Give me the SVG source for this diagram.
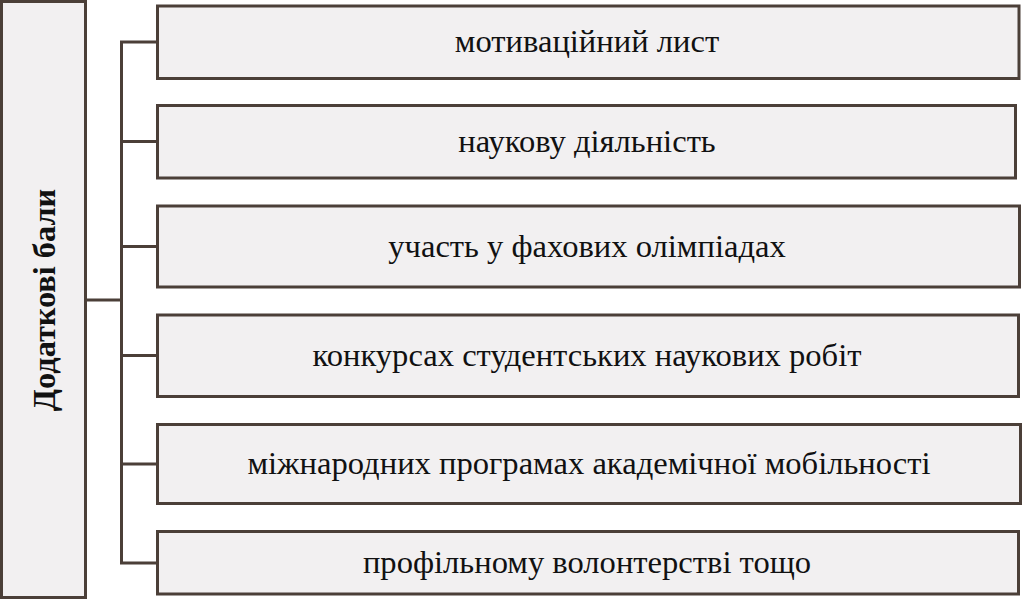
<svg xmlns="http://www.w3.org/2000/svg" width="1024" height="600" viewBox="0 0 1024 600">
<style>
.box{fill:#f2f0f1;stroke:#4b3f38;stroke-width:3}
.ln{fill:none;stroke:#4b3f38;stroke-width:3}
.t{font-family:"Liberation Serif","Times New Roman",serif;font-size:32.6px;fill:#111;text-anchor:middle}
.h{font-family:"Liberation Serif","Times New Roman",serif;font-size:32.3px;font-weight:bold;fill:#111;text-anchor:middle}
</style>
<rect width="1024" height="600" fill="#ffffff"/>
<g id="connectors">
<path class="ln" d="M85.5 300H121.5"/>
<path class="ln" d="M157.5 42H121.5V563H157.5"/>
<path class="ln" d="M121.5 141.5H157.5"/>
<path class="ln" d="M121.5 246.5H157.5"/>
<path class="ln" d="M121.5 355.5H157.5"/>
<path class="ln" d="M121.5 464H157.5"/>
</g>
<g id="main">
<rect class="box" x="1.5" y="1.5" width="84" height="596"/>
<text class="h" transform="translate(55,300) rotate(-90)">Додаткові бали</text>
</g>
<g id="n1">
<rect class="box" x="157.5" y="6" width="861.5" height="72.5"/>
<text class="t" x="587" y="52">мотиваційний лист</text>
</g>
<g id="n2">
<rect class="box" x="157.5" y="105.5" width="858" height="72.5"/>
<text class="t" x="587" y="151.5">наукову діяльність</text>
</g>
<g id="n3">
<rect class="box" x="157.5" y="206" width="862" height="81"/>
<text class="t" x="587" y="256.5">участь у фахових олімпіадах</text>
</g>
<g id="n4">
<rect class="box" x="157.5" y="315" width="861" height="81.5"/>
<text class="t" x="587" y="365.5">конкурсах студентських наукових робіт</text>
</g>
<g id="n5">
<rect class="box" x="157.5" y="424.5" width="863" height="79"/>
<text class="t" x="589" y="474">міжнародних програмах академічної мобільності</text>
</g>
<g id="n6">
<rect class="box" x="157.5" y="531.5" width="861" height="62.5"/>
<text class="t" x="587" y="573">профільному волонтерстві тощо</text>
</g>
</svg>
